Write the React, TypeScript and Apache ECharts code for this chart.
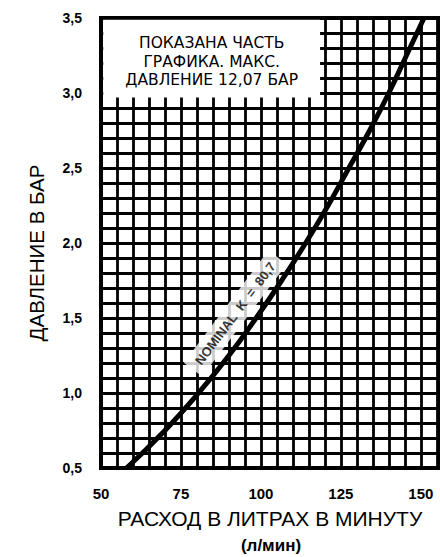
import React, { useEffect, useRef } from "react";
import * as echarts from "echarts";

// Curve: flow (L/min) at each pressure (bar)
const PRESSURE = [0.5, 0.75, 1.0, 1.25, 1.5, 1.75, 2.0, 2.25, 2.5, 2.75, 3.0, 3.25, 3.5];
const FLOW = [58, 70, 80.5, 90, 98.5, 106.5, 114, 121, 127.5, 134, 140, 145.5, 151];

const X_LABELS = [50, 75, 100, 125, 150];
const Y_LABELS = [0.5, 1.0, 1.5, 2.0, 2.5, 3.0, 3.5];

const NOTE_TEXT = "ПОКАЗАНА ЧАСТЬ\nГРАФИКА. МАКС.\nДАВЛЕНИЕ 12,07 БАР";
const NOTE_FROM = [50.7, 2.97];
const NOTE_TO = [118.5, 3.488];

const CURVE_LABEL = "NOMINAL  K  =  80,7";
const CURVE_LABEL_AT = [92.0, 1.53];

const X_TITLE = "РАСХОД В ЛИТРАХ В МИНУТУ";
const X_UNIT = "(л/мин)";
const Y_TITLE = "ДАВЛЕНИЕ В БАР";

const FONT = "'Liberation Sans', Arial, sans-serif";
const WIDE = "'DejaVu Sans', Arial, sans-serif";

export default function App() {
  const ref = useRef<HTMLDivElement>(null);
  useEffect(() => {
    if (!ref.current) return;
    const chart = echarts.init(ref.current, null, { renderer: "svg" });
    const grid = { color: "#000", width: 2.8 };
    chart.setOption({
      animation: false,
      backgroundColor: "#fff",
      grid: {
        left: 101,
        right: 0,
        top: 18,
        bottom: 89,
        show: true,
        borderColor: "#000",
        borderWidth: 4,
        backgroundColor: "#fff",
      },
      xAxis: {
        type: "value",
        min: 50,
        max: 156,
        interval: 5,
        axisLine: { show: false },
        axisTick: { show: false },
        splitLine: { show: true, lineStyle: grid },
        axisLabel: {
          margin: 18,
          color: "#000",
          fontWeight: "bold",
          fontSize: 15,
          fontFamily: FONT,
          showMaxLabel: false,
          formatter: (v: number) => (X_LABELS.includes(Math.round(v)) && Math.abs(v - Math.round(v)) < 1e-6 ? String(Math.round(v)) : ""),
        },
      },
      yAxis: {
        type: "value",
        min: 0.5,
        max: 3.5,
        interval: 0.1,
        axisLine: { show: false },
        axisTick: { show: false },
        splitLine: { show: true, lineStyle: grid },
        axisLabel: {
          margin: 19,
          color: "#000",
          fontWeight: "bold",
          fontSize: 14,
          fontFamily: FONT,
          formatter: (v: number) => {
            const r = Math.round(v * 10) / 10;
            return Y_LABELS.some((y) => Math.abs(y - r) < 1e-6) ? r.toFixed(1).replace(".", ",") : "";
          },
        },
      },
      series: [
        {
          type: "line",
          smooth: 0.5,
          symbol: "none",
          lineStyle: { color: "#000", width: 5 },
          data: FLOW.map((q, i) => [q, PRESSURE[i]]),
          z: 3,
          markArea: {
            silent: true,
            itemStyle: { color: "#fff" },
            label: {
              show: true,
              position: "inside",
              offset: [0, 3],
              color: "#000",
              fontSize: 15.5,
              lineHeight: 18.5,
              fontFamily: WIDE,
              formatter: NOTE_TEXT,
            },
            data: [[{ coord: NOTE_FROM }, { coord: NOTE_TO }]],
          },
        },
        {
          type: "scatter",
          symbolSize: 0,
          z: 4,
          data: [CURVE_LABEL_AT],
          label: {
            show: true,
            position: "inside",
            rotate: 53,
            formatter: CURVE_LABEL,
            color: "#000",
            fontWeight: "bold",
            fontSize: 13,
            fontFamily: FONT,
            backgroundColor: "#fff",
            padding: [5, 8],
          },
        },
      ],
      graphic: [
        {
          type: "text",
          x: 36,
          y: 253,
          rotation: Math.PI / 2,
          style: {
            text: Y_TITLE,
            fontSize: 20.5,
            fontFamily: FONT,
            fill: "#000",
            align: "center",
            verticalAlign: "middle",
          },
        },
        {
          type: "text",
          x: 270,
          y: 518,
          style: {
            text: X_TITLE,
            fontSize: 21,
            fontFamily: FONT,
            fill: "#000",
            align: "center",
            verticalAlign: "middle",
          },
        },
        {
          type: "text",
          x: 271,
          y: 545,
          style: {
            text: X_UNIT,
            fontSize: 17,
            fontWeight: "bold",
            fontFamily: FONT,
            fill: "#000",
            align: "center",
            verticalAlign: "middle",
          },
        },
      ],
    });
    return () => chart.dispose();
  }, []);
  return <div ref={ref} style={{ position: "fixed", left: 0, top: 0, width: 440, height: 557 }} />;
}
